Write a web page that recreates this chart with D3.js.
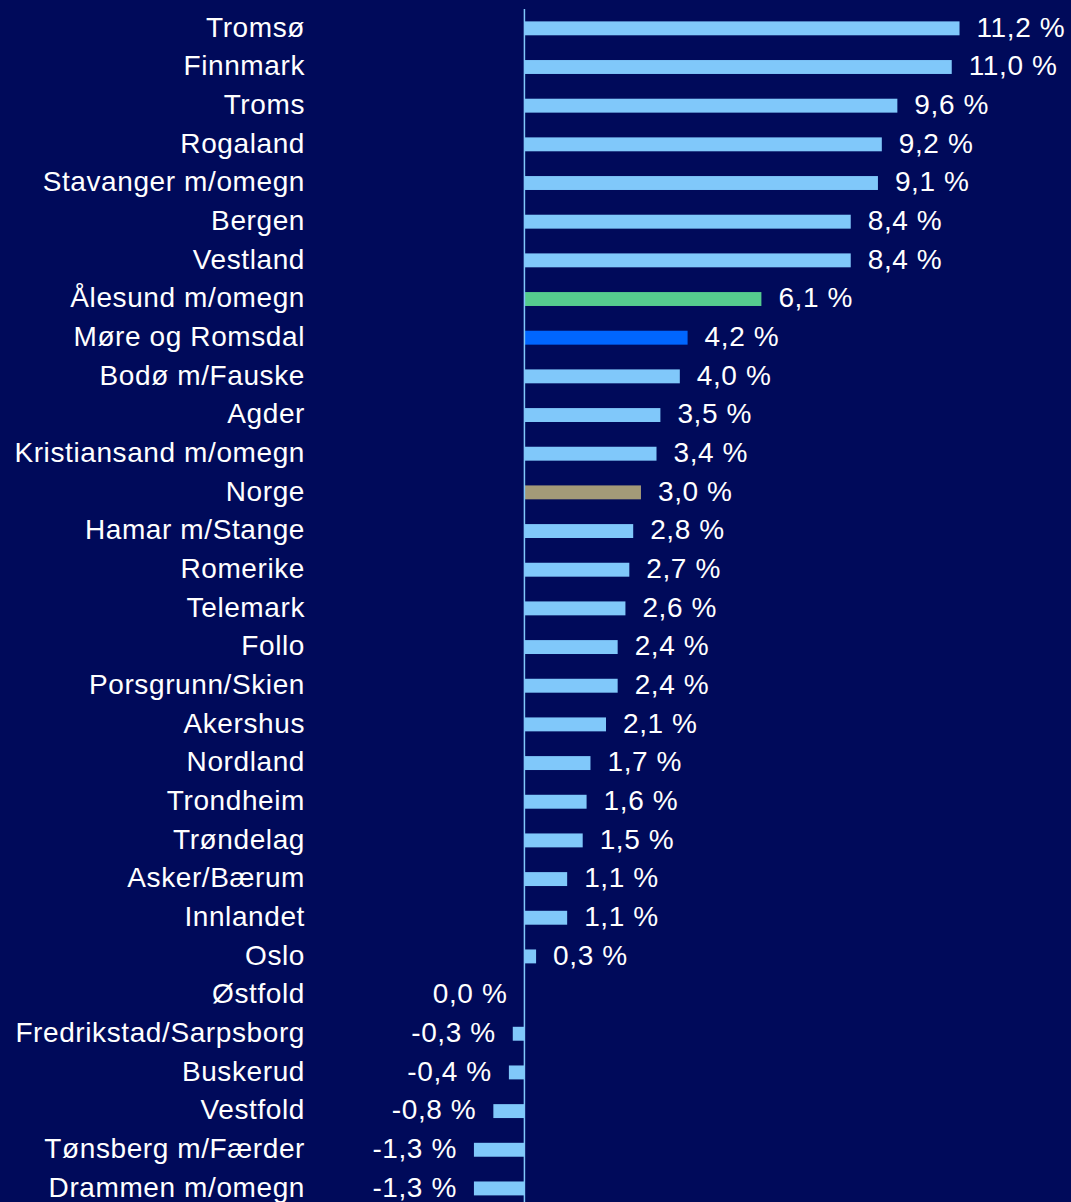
<!DOCTYPE html>
<html>
<head>
<meta charset="utf-8">
<script src="https://cdn.jsdelivr.net/npm/d3@7"></script>
<style>
  html, body { margin: 0; padding: 0; background: #000a5a; }
  svg { display: block; }
</style>
</head>
<body>
<div id="chart"></div>
<script>
const regions = [
  "Tromsø", "Finnmark", "Troms", "Rogaland", "Stavanger m/omegn", "Bergen", "Vestland",
  "Ålesund m/omegn", "Møre og Romsdal", "Bodø m/Fauske", "Agder", "Kristiansand m/omegn",
  "Norge", "Hamar m/Stange", "Romerike", "Telemark", "Follo", "Porsgrunn/Skien", "Akershus",
  "Nordland", "Trondheim", "Trøndelag", "Asker/Bærum", "Innlandet", "Oslo", "Østfold",
  "Fredrikstad/Sarpsborg", "Buskerud", "Vestfold", "Tønsberg m/Færder", "Drammen m/omegn"
];
const values = [
  11.2, 11.0, 9.6, 9.2, 9.1, 8.4, 8.4,
  6.1, 4.2, 4.0, 3.5, 3.4,
  3.0, 2.8, 2.7, 2.6, 2.4, 2.4, 2.1,
  1.7, 1.6, 1.5, 1.1, 1.1, 0.3, 0.0,
  -0.3, -0.4, -0.8, -1.3, -1.3
];
// highlighted rows
const highlight = {
  "Ålesund m/omegn": "#55cc8e",
  "Møre og Romsdal": "#0066ff",
  "Norge": "#a39a78"
};
const baseColor = "#80c8fa";
const font = "'Liberation Sans', Arial, sans-serif";

const width = 1071, height = 1202;
const data = regions.map((r, i) => ({region: r, value: values[i]}));

const svg = d3.select("#chart").append("svg")
  .attr("width", width)
  .attr("height", height);

svg.append("rect").attr("width", width).attr("height", height).attr("fill", "#000a5a");

// ~38.8 px per percentage point, zero at x=524.5
const x = d3.scaleLinear()
  .domain([-13.5, 14.07])
  .range([0, 1071]);

const y = d3.scaleBand()
  .domain(regions)
  .range([9, 9 + 31 * 38.67])
  .paddingInner(0.64)
  .paddingOuter(0.32);

const fmt = v => d3.format(".1f")(v).replace(".", ",").replace("−", "-") + " %";

// bars
svg.append("g")
  .selectAll("rect")
  .data(data)
  .join("rect")
  .attr("x", d => x(Math.min(0, d.value)))
  .attr("y", d => y(d.region))
  .attr("width", d => Math.abs(x(d.value) - x(0)))
  .attr("height", y.bandwidth())
  .attr("fill", d => highlight[d.region] || baseColor);

// axis line
svg.append("line")
  .attr("x1", x(0)).attr("x2", x(0))
  .attr("y1", 9).attr("y2", height)
  .attr("stroke", "#80c8fa")
  .attr("stroke-width", 1.5);

// category labels
svg.append("g")
  .selectAll("text")
  .data(data)
  .join("text")
  .attr("x", 305)
  .attr("y", d => y(d.region) + y.bandwidth() / 2)
  .attr("dy", "0.3em")
  .attr("text-anchor", "end")
  .attr("fill", "#ffffff")
  .attr("font-family", font)
  .attr("font-size", "28px")
  .attr("letter-spacing", "0.6px")
  .text(d => d.region);

// value labels
svg.append("g")
  .selectAll("text")
  .data(data)
  .join("text")
  .attr("x", d => d.value > 0 ? x(d.value) + 17 : x(d.value) - 17)
  .attr("y", d => y(d.region) + y.bandwidth() / 2)
  .attr("dy", "0.3em")
  .attr("text-anchor", d => d.value > 0 ? "start" : "end")
  .attr("fill", "#ffffff")
  .attr("font-family", font)
  .attr("font-size", "28px")
  .attr("letter-spacing", "0.6px")
  .text(d => fmt(d.value));
</script>
</body>
</html>
